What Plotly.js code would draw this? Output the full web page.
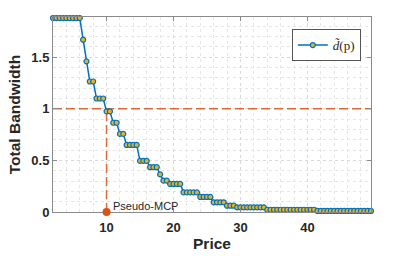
<!DOCTYPE html>
<html>
<head>
<meta charset="utf-8">
<script src="https://cdn.plot.ly/plotly-3.0.1.min.js"></script>
<style>
html,body{margin:0;padding:0;background:#fff;}
#chart{width:409px;height:256px;}
</style>
</head>
<body>
<div id="chart"></div>
<script>
// ---- data ----
var prices = [2,2.5,3,3.5,4,4.5,5,5.5,6,6.5,7,7.5,8,8.5,9,9.5,10,10.5,11,11.5,12,12.5,13,13.5,14,14.5,
  15,15.5,16,16.5,17,17.5,18,18.5,19,19.5,20,20.5,21,21.5,22,22.5,23,23.5,24,24.5,25,25.5,26,26.5,27,27.5,
  28,28.5,29,29.5,30,30.5,31,31.5,32,32.5,33,33.5,34,34.5,35,35.5,36,36.5,37,37.5,38,38.5,39,39.5,40,40.5,
  41,41.5,42,42.5,43,43.5,44,44.5,45,45.5,46,46.5,47,47.5,48,48.5,49,49.5];
var bandwidth = [1.88,1.88,1.88,1.88,1.88,1.88,1.88,1.88,1.88,
  1.67,1.46,1.265,1.265,1.10,1.10,1.10,0.975,0.975,0.865,0.865,0.757,0.757,
  0.65,0.65,0.65,0.65,0.495,0.495,0.495,0.434,0.434,0.434,0.365,0.304,0.304,
  0.272,0.272,0.272,0.272,0.19,0.19,0.19,0.19,0.19,0.146,0.146,0.146,0.146,
  0.094,0.094,0.094,0.094,0.061,0.061,0.061,
  0.045,0.045,0.045,0.045,0.045,0.045,0.045,0.045,0.045,
  0.022,0.022,0.022,0.022,0.022,0.022,0.022,0.022,0.022,0.022,0.022,0.022,0.022,0.022,0.022,
  0.01,0.01,0.01,0.01,0.01,0.01,0.01,0.01,0.01,0.01,0.01,0.01,0.01,0.01,0.01,0.01,0.01];
var threshold = 1;
var mcpPrice = 10;
var mcpValue = 0;
var mcpLabel = 'Pseudo-MCP';
var seriesName = '<i>d\u0303</i>(p)';
var xTicks = [10,20,30,40];
var yTicks = [0,0.5,1,1.5];
var yTickText = ['0','0.5','1','1.5'];
var yRange = [0, 1.89];

var orange = '#D95319';
var xMin = prices[0], xMax = prices[prices.length-1];
var mcpPaperY = (mcpValue - yRange[0]) / (yRange[1] - yRange[0]);

var traces = [
  {x:[xMin,xMax], y:[threshold,threshold], mode:'lines', showlegend:false, hoverinfo:'skip',
   line:{color:orange, width:1.5, dash:'9px,4px'}, opacity:0.85},
  {x:[mcpPrice,mcpPrice], y:[mcpValue,threshold], mode:'lines', showlegend:false, hoverinfo:'skip',
   line:{color:orange, width:1.5, dash:'9px,4px'}, opacity:0.85},
  {x:prices, y:bandwidth, mode:'lines+markers', name:seriesName, cliponaxis:false,
   line:{color:'#0072BD', width:1.5},
   marker:{symbol:'circle', size:5, color:'#EDB120', line:{color:'#0072BD', width:1.2}}}
];

var axisCommon = {
  showline:true, linecolor:'#8a8a8a', linewidth:1, mirror:'ticks',
  ticks:'inside', ticklen:4, tickcolor:'#8a8a8a', zeroline:false,
  showgrid:true, gridcolor:'#d9d9d9', griddash:'dot', gridwidth:1,
  tickfont:{family:'Liberation Sans, Arial, sans-serif', size:13, color:'#262626', weight:'bold'}
};

var layout = {
  width:409, height:256,
  margin:{l:53, r:38, t:17, b:44},
  paper_bgcolor:'#fff', plot_bgcolor:'#fff',
  showlegend:true,
  legend:{x:0.968, xanchor:'right', y:0.938, yanchor:'top',
    bgcolor:'#fff', bordercolor:'#555', borderwidth:1,
    font:{family:'Liberation Serif, DejaVu Serif, serif', size:13, color:'#262626'},
    itemwidth:30, tracegroupgap:0},
  xaxis: Object.assign({}, axisCommon, {
    range:[xMin, xMax], tickvals:xTicks, ticktext:xTicks.map(String), ticklabelstandoff:3,
    minor:{dtick:2, tick0:0, showgrid:true, gridcolor:'#e6e6e6', griddash:'dot', gridwidth:1, ticks:''},
    title:{text:'Price', standoff:4, font:{family:'Liberation Sans, Arial, sans-serif', size:15.5, color:'#262626', weight:'bold'}}
  }),
  yaxis: Object.assign({}, axisCommon, {
    range:yRange, tickvals:yTicks, ticktext:yTickText,
    minor:{dtick:0.1, tick0:0, showgrid:true, gridcolor:'#e6e6e6', griddash:'dot', gridwidth:1, ticks:''},
    title:{text:'Total Bandwidth', standoff:6, font:{family:'Liberation Sans, Arial, sans-serif', size:15.5, color:'#262626', weight:'bold'}}
  }),
  shapes:[{type:'circle', layer:'above', xref:'x', yref:'paper',
    xsizemode:'pixel', ysizemode:'pixel', xanchor:mcpPrice, yanchor:mcpPaperY,
    x0:-4, x1:4, y0:-4, y1:4,
    fillcolor:orange, line:{color:orange, width:0}}],
  annotations:[{x:mcpPrice, y:mcpValue, xref:'x', yref:'y', text:mcpLabel, showarrow:false,
    xanchor:'left', yanchor:'middle', xshift:4, yshift:6,
    font:{family:'Liberation Sans, Arial, sans-serif', size:11, color:'#262626'}}]
};

Plotly.newPlot('chart', traces, layout, {displayModeBar:false, staticPlot:true});
</script>
</body>
</html>
